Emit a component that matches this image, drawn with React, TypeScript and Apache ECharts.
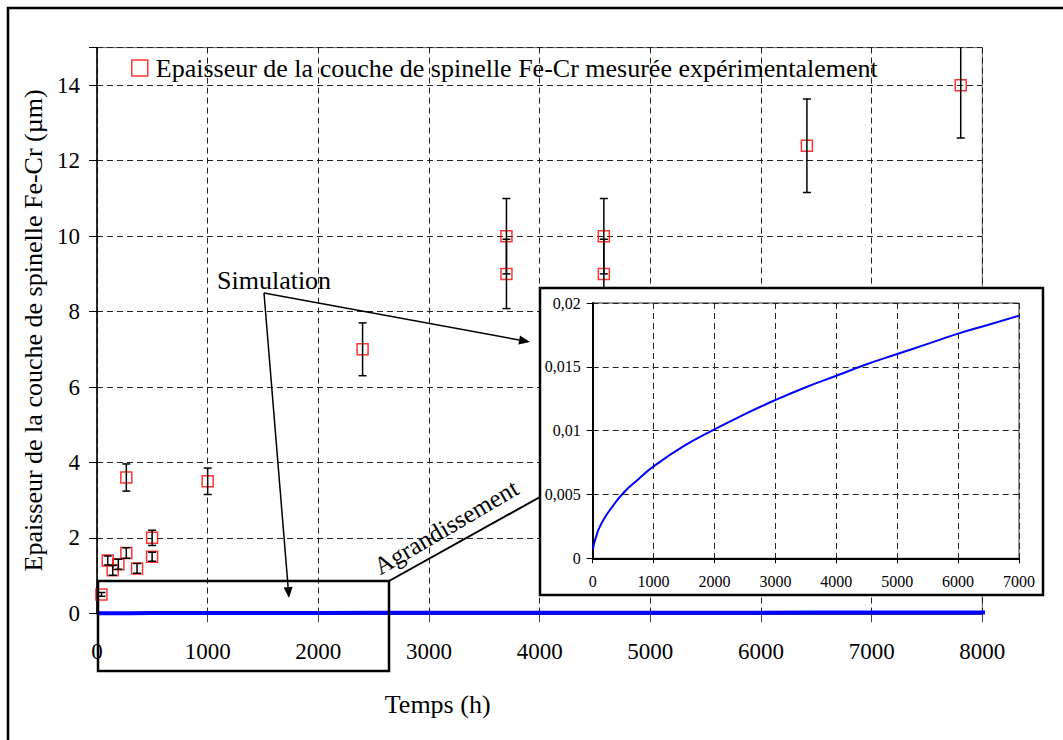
import React, { useEffect, useRef } from "react";
import * as echarts from "echarts";

// Experimental measurements
const timeH = [40, 97, 142, 193, 265, 265, 362, 498, 498, 1000, 2400, 3700, 3700, 4580, 4580, 6415, 7805];
const thickness = [0.5, 1.4, 1.14, 1.3, 1.6, 3.6, 1.19, 1.5, 2.0, 3.5, 7.0, 10.0, 9.0, 10.0, 9.0, 12.4, 14.0];
const thicknessErr = [0.05, 0.12, 0.13, 0.13, 0.14, 0.36, 0.13, 0.12, 0.2, 0.35, 0.7, 1.0, 0.92, 1.0, 0.92, 1.24, 1.4];

// Simulation
const simTime = [5, 10, 25, 50, 100, 200, 300, 500, 750, 1000, 1500, 2000, 2500, 3000, 3500, 4000, 4500, 5000, 5500, 6000, 6500, 7000, 8050];
const simThick = [0.0007, 0.0009, 0.0012, 0.0016, 0.0023, 0.0032, 0.0039, 0.0051, 0.0062, 0.0072, 0.0088, 0.0101, 0.0113, 0.0124, 0.0134, 0.0143, 0.0152, 0.0160, 0.0168, 0.0176, 0.0183, 0.0190, 0.0204];

const mainXTicks = { min: 0, max: 8000, interval: 1000 };
const mainYTicks = { min: 0, max: 15, interval: 2 };
const insetXTicks = { min: 0, max: 7000, interval: 1000 };
const insetYTicks = { min: 0, max: 0.02, interval: 0.005 };

const legendLabel = "Epaisseur de la couche de spinelle Fe-Cr mesurée expérimentalement";
const yName = "Epaisseur de la couche de spinelle Fe-Cr (µm)";
const xName = "Temps (h)";

const FONT = '"Liberation Serif", "Times New Roman", serif';

function arrow(x1: number, y1: number, x2: number, y2: number, z: number) {
  const dx = x2 - x1, dy = y2 - y1;
  const len = Math.sqrt(dx * dx + dy * dy);
  const ux = dx / len, uy = dy / len;
  const head = 11, half = 4.5;
  const bx = x2 - ux * head, by = y2 - uy * head;
  const px = -uy * half, py = ux * half;
  return [
    { type: "line", z, shape: { x1, y1, x2: bx, y2: by }, style: { stroke: "#000", lineWidth: 1.5 } },
    { type: "polygon", z, shape: { points: [[x2, y2], [bx + px, by + py], [bx - px, by - py]] }, style: { fill: "#000" } },
  ];
}

export default function App() {
  const ref = useRef<HTMLDivElement>(null);
  useEffect(() => {
    const chart = echarts.init(ref.current!, null, { renderer: "svg" });
    const scatterData = timeH.map((t, i) => [t, thickness[i]]);
    const errData = timeH.map((t, i) => [t, thickness[i], thicknessErr[i]]);
    const simMain = simTime.map((t, i) => [t, simThick[i]]);
    const simInset = simTime.filter((t) => t <= 7000).map((t, i) => [t, simThick[i]]);

    const splitDash = { show: true, lineStyle: { color: "#222", type: [6, 4], width: 1 } };

    const option: any = {
      animation: false,
      backgroundColor: "#fff",
      textStyle: { fontFamily: FONT },
      legend: {
        data: [legendLabel],
        left: 131,
        top: 55,
        padding: 0,
        itemWidth: 16,
        itemHeight: 16,
        itemStyle: { borderWidth: 1.5 },
        textStyle: { fontSize: 26, fontFamily: FONT, color: "#000", padding: [0, 0, 0, 3] },
      },
      grid: [
        { left: 97, top: 47.6, width: 885.3, height: 565.7, show: true, borderColor: "#666", borderWidth: 1, backgroundColor: "transparent" },
        { left: 592.7, top: 303, width: 426.3, height: 255.3, show: true, borderColor: "#333", borderWidth: 1, backgroundColor: "transparent", z: 11 },
      ],
      xAxis: [
        {
          type: "value", gridIndex: 0, ...mainXTicks,
          name: xName, nameLocation: "middle", nameGap: 78,
          nameTextStyle: { fontSize: 26, fontFamily: FONT, color: "#000", padding: [0, 204, 0, 0] },
          axisLine: { show: true, lineStyle: { color: "#000", width: 1.5 } },
          axisTick: { show: true, length: 9, lineStyle: { color: "#444" } },
          axisLabel: { fontSize: 23, fontFamily: FONT, color: "#000", margin: 27, formatter: (v: number) => String(v) },
          splitLine: splitDash,
        },
        {
          type: "value", gridIndex: 1, ...insetXTicks, z: 11,
          axisLine: { show: true, onZero: false, lineStyle: { color: "#000", width: 2 } },
          axisTick: { show: true, length: 5, lineStyle: { color: "#000" } },
          axisLabel: { fontSize: 16, fontFamily: FONT, color: "#000", margin: 15, formatter: (v: number) => String(v) },
          splitLine: splitDash,
        },
      ],
      yAxis: [
        {
          type: "value", gridIndex: 0, ...mainYTicks,
          name: yName, nameLocation: "middle", nameGap: 46,
          nameTextStyle: { fontSize: 26, fontFamily: FONT, color: "#000" },
          axisLine: { show: true, lineStyle: { color: "#000", width: 1.5 } },
          axisTick: { show: true, length: 8, lineStyle: { color: "#000" } },
          axisLabel: {
            fontSize: 23, fontFamily: FONT, color: "#000", margin: 17,
            formatter: (v: number) => (v === 15 ? "" : String(v)),
          },
          splitLine: splitDash,
        },
        {
          type: "value", gridIndex: 1, ...insetYTicks, z: 11,
          axisLine: { show: true, onZero: false, lineStyle: { color: "#000", width: 2 } },
          axisTick: { show: true, length: 6, lineStyle: { color: "#000" } },
          axisLabel: {
            fontSize: 16, fontFamily: FONT, color: "#000", margin: 12,
            formatter: (v: number) => (v === 0 ? "0" : String(+v.toFixed(3)).replace(".", ",")),
          },
          splitLine: splitDash,
        },
      ],
      series: [
        {
          name: "Simulation",
          type: "line",
          xAxisIndex: 0, yAxisIndex: 0,
          data: simMain,
          showSymbol: false,
          clip: false,
          lineStyle: { color: "#0000FF", width: 4 },
          z: 2,
        },
        {
          name: legendLabel,
          type: "scatter",
          xAxisIndex: 0, yAxisIndex: 0,
          data: scatterData,
          symbol: "rect",
          symbolSize: 11,
          itemStyle: { color: "rgba(0,0,0,0)", borderColor: "#FF0000", borderWidth: 1.5 },
          z: 3,
        },
        {
          name: "err",
          type: "custom",
          xAxisIndex: 0, yAxisIndex: 0,
          data: errData,
          encode: { x: 0, y: 1 },
          clip: true,
          z: 4,
          renderItem: (params: any, api: any) => {
            const x = api.value(0), y = api.value(1), e = api.value(2);
            const top = api.coord([x, y + e]);
            const bot = api.coord([x, y - e]);
            const hw = 4;
            const st = { stroke: "#000", lineWidth: 1.5 };
            return {
              type: "group",
              children: [
                { type: "line", shape: { x1: top[0], y1: top[1], x2: bot[0], y2: bot[1] }, style: st },
                { type: "line", shape: { x1: top[0] - hw, y1: top[1], x2: top[0] + hw, y2: top[1] }, style: st },
                { type: "line", shape: { x1: bot[0] - hw, y1: bot[1], x2: bot[0] + hw, y2: bot[1] }, style: st },
              ],
            };
          },
        },
        {
          name: "Simulation (agrandissement)",
          type: "line",
          xAxisIndex: 1, yAxisIndex: 1,
          data: simInset,
          showSymbol: false,
          smooth: true,
          lineStyle: { color: "#0000FF", width: 2 },
          z: 12,
        },
      ],
      graphic: {
        elements: [
          { type: "rect", z: 1, shape: { x: 8, y: 8, width: 1100, height: 800 }, style: { fill: "none", stroke: "#000", lineWidth: 2.5 } },
          { type: "rect", z: 10, shape: { x: 540, y: 288, width: 503, height: 307 }, style: { fill: "#fff", stroke: "#000", lineWidth: 2.5 } },
          { type: "rect", z: 5, shape: { x: 98, y: 581, width: 291, height: 90 }, style: { fill: "none", stroke: "#000", lineWidth: 2.5 } },
          { type: "line", z: 5, shape: { x1: 389, y1: 581, x2: 540, y2: 497 }, style: { stroke: "#000", lineWidth: 2 } },
          {
            type: "text", z: 5, x: 446, y: 527, rotation: 0.53,
            style: { text: "Agrandissement", font: `25px ${FONT}`, fill: "#000", textAlign: "center", textVerticalAlign: "middle" },
          },
          {
            type: "text", z: 5, x: 217, y: 280,
            style: { text: "Simulation", font: `26px ${FONT}`, fill: "#000", textAlign: "left", textVerticalAlign: "middle" },
          },
          ...arrow(264, 293, 530, 342, 5),
          ...arrow(264, 293, 289, 598, 5),
        ],
      },
    };
    chart.setOption(option);
    return () => chart.dispose();
  }, []);
  return <div ref={ref} style={{ position: "fixed", left: 0, top: 0, width: 1063, height: 740 }} />;
}
